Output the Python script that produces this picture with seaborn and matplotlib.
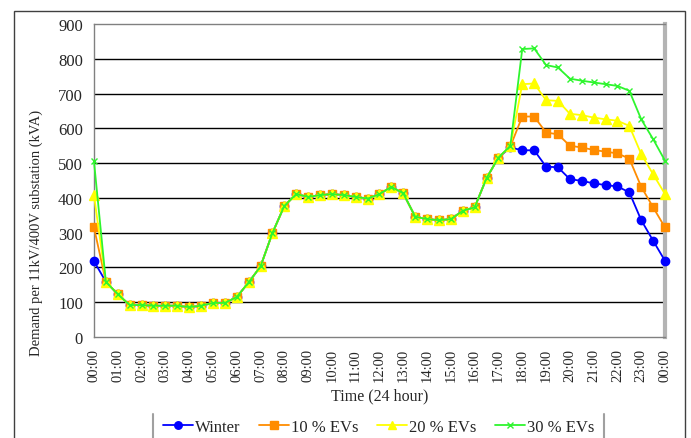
import matplotlib
matplotlib.use("Agg")
import matplotlib.pyplot as plt
from matplotlib.lines import Line2D
from matplotlib.patches import Rectangle
import seaborn as sns

sns.set_style("white")
plt.rcParams['font.family'] = ['Liberation Serif', 'DejaVu Serif']

# half-hour steps over the day, 00:00 .. 00:00
hours = [h * 0.5 for h in range(49)]
hour_labels = ["%02d:00" % (h % 24) for h in range(25)]

winter = [218, 159, 123, 92, 92, 90, 90, 90, 86, 90, 98, 98, 115, 157, 203, 299,
          377, 411, 403, 408, 411, 408, 403, 398, 411, 432, 413, 346, 339, 336, 339,
          363, 373, 457, 516, 545, 537, 537, 490, 488, 454, 449, 442, 437, 433, 416,
          336, 277, 219]
ev10 = [315, 159, 123, 92, 92, 90, 90, 90, 86, 90, 98, 98, 115, 157, 203, 299,
        377, 411, 403, 408, 411, 408, 403, 398, 411, 432, 413, 346, 339, 336, 339,
        363, 373, 457, 516, 548, 634, 634, 588, 583, 550, 545, 538, 533, 528, 513,
        432, 373, 315]
ev20 = [408, 159, 123, 92, 92, 90, 90, 90, 86, 90, 98, 98, 115, 157, 203, 299,
        377, 411, 403, 408, 411, 408, 403, 398, 411, 432, 413, 346, 339, 336, 339,
        363, 373, 457, 516, 548, 727, 729, 681, 679, 642, 638, 631, 626, 622, 607,
        526, 468, 411]
ev30 = [505, 159, 123, 92, 92, 90, 90, 90, 86, 90, 98, 98, 115, 157, 203, 299,
        377, 411, 403, 408, 411, 408, 403, 398, 411, 432, 413, 346, 339, 336, 339,
        363, 373, 457, 516, 550, 828, 830, 782, 775, 743, 737, 732, 727, 722, 708,
        626, 569, 507]

series = [
    ("Winter", winter, "#0000FF", "o", 6),
    ("10 % EVs", ev10, "#FF8C00", "s", 6),
    ("20 % EVs", ev20, "#FFFF00", "^", 6.5),
    ("30 % EVs", ev30, "#2EF52E", "x", 5),
]

fig = plt.figure(figsize=(6.91, 4.39), dpi=100)
ax = fig.add_axes([0.136, 0.230, 0.8264, 0.713])

for name, vals, col, mk, ms in series:
    sns.lineplot(x=hours, y=vals, ax=ax, color=col, marker=mk, markersize=ms,
                 markeredgecolor=col, markerfacecolor=col, linewidth=1.3,
                 label=name, markeredgewidth=1, clip_on=False, zorder=3)

ax.set_xlim(0, 24)
ax.set_ylim(0, 900)
ax.set_yticks(range(0, 901, 100))
ax.set_xticks(range(25))
ax.set_xticklabels(hour_labels, rotation=90)
ax.set_xticks(hours, minor=True)
ax.tick_params(axis="both", which="both", direction="out", color="#808080", pad=3)
ax.tick_params(axis="y", labelsize=12)
ax.tick_params(axis="x", labelsize=10.5)
ax.tick_params(axis="both", which="major", length=5)
ax.tick_params(axis="x", which="minor", length=5)

ax.yaxis.grid(True, color="black", linewidth=1)
ax.xaxis.grid(False)
gls = ax.get_ygridlines()
gls[0].set_visible(False)
gls[-1].set_visible(False)

for s in ["left", "bottom", "top"]:
    ax.spines[s].set_color("#808080")
    ax.spines[s].set_linewidth(1)
ax.spines["right"].set_color("#B4B4B4")
ax.spines["right"].set_linewidth(3)

ax.set_xlabel("Time (24 hour)", fontsize=11.5, labelpad=4)
ax.set_ylabel("Demand per 11kV/400V substation (kVA)", fontsize=10.5)
ax.yaxis.set_label_coords(-0.0893, 0.335)

handles, labels = ax.get_legend_handles_labels()
ax.get_legend().remove()
leg = fig.legend(handles, labels, loc="center", bbox_to_anchor=(0.548, 0.026),
                 ncol=4, frameon=False, fontsize=12, handlelength=1.8,
                 handletextpad=0.12, columnspacing=1.1, markerscale=0.9)

# outer chart frame
fig.add_artist(Rectangle((14 / 691, -0.1), (685 - 14) / 691, 1.1 - 11.5 / 439,
                         transform=fig.transFigure, fill=False,
                         edgecolor="#404040", linewidth=1))

fig.canvas.draw()
bb = leg.get_window_extent().transformed(fig.transFigure.inverted())
for xe in (bb.x0 - 0.005, bb.x1 + 0.005):
    fig.add_artist(Line2D([xe, xe], [-0.05, 1 - 415 / 439],
                          transform=fig.transFigure, color="#A0A0A0", linewidth=1.5))

fig.savefig("out.png", dpi=100)
